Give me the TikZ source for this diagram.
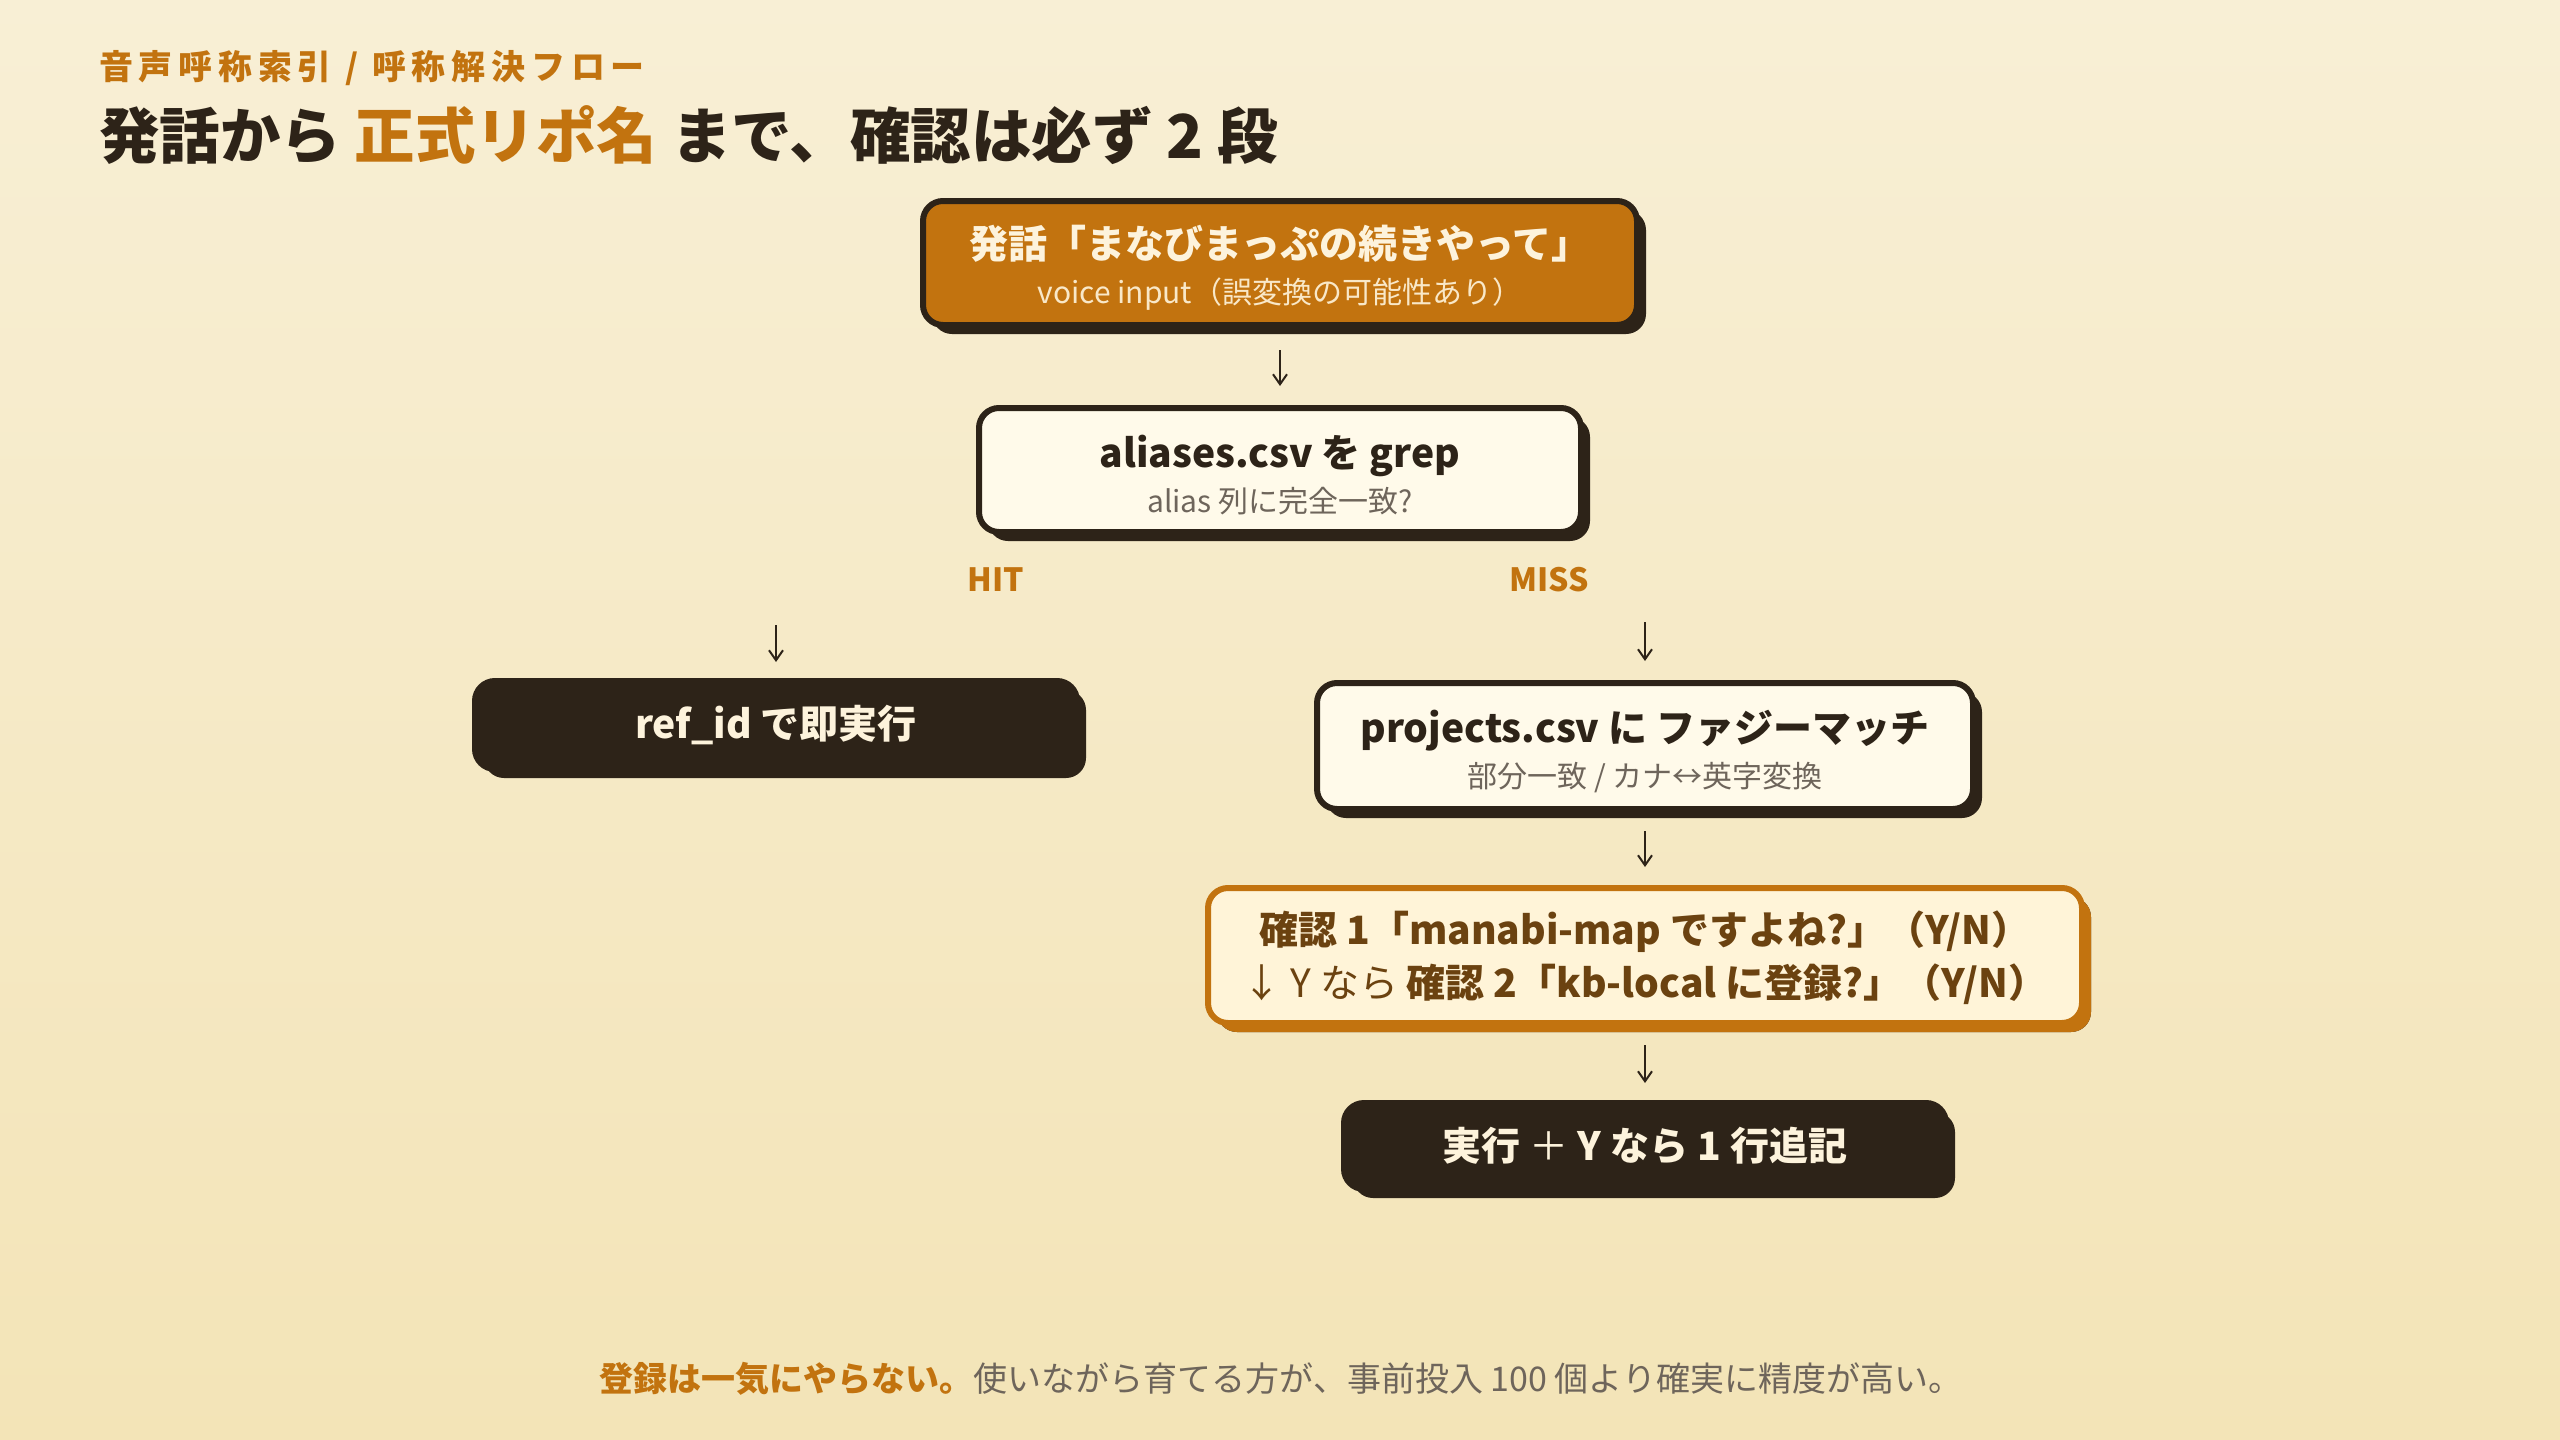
\documentclass[tikz,border=0pt]{standalone}
\usepackage{fontspec}
\setmainfont{Noto Sans CJK JP}
\newfontfamily\kickerfont[LetterSpace=17]{Noto Sans CJK JP}
\usetikzlibrary{positioning, arrows.meta, shadows}

\definecolor{bgtop}{HTML}{F8EFD5}
\definecolor{bgbot}{HTML}{F3E4B7}
\definecolor{ink}{HTML}{2D2318}
\definecolor{amber}{HTML}{C2730F}
\definecolor{paper}{HTML}{FFFAEA}
\definecolor{pale}{HTML}{FFF4D8}
\definecolor{cream}{HTML}{FDF3DC}
\definecolor{sand}{HTML}{F9E8C8}
\definecolor{slate}{HTML}{6E655B}
\definecolor{umber}{HTML}{6B4210}

\begin{document}
\begin{tikzpicture}[x=1pt, y=-1pt, >={Straight Barb[length=10pt,width=14pt]},
    line width=2pt, node distance=74pt, align=center]

    \tikzset{
      card/.style = {rounded corners=20pt, line width=6pt, draw=ink,
        minimum width=602pt, minimum height=88pt, inner sep=0pt,
        font=\bfseries\fontsize{39}{45}\selectfont,
        drop shadow={shadow xshift=9pt, shadow yshift=-9pt, opacity=1, fill=ink}},
      twoline/.style  = {text height=88pt},
      startbox/.style = {card, twoline, fill=amber, text=cream},
      checkbox/.style = {card, twoline, fill=paper, text=ink},
      askbox/.style   = {card, draw=amber, fill=pale, text=umber, text height=91pt,
        font=\bfseries\fontsize{39}{53}\selectfont,
        drop shadow={shadow xshift=9pt, shadow yshift=-9pt, opacity=1, fill=amber}},
      endbox/.style   = {card, fill=ink, text=cream},
      branch/.style   = {text=amber, font=\bfseries\fontsize{32}{38}\selectfont},
    }

    % background
    \shade[top color=bgtop, bottom color=bgbot] (0,0) rectangle (2560,1440);
    \useasboundingbox (0,0) rectangle (2560,1440);

    \node[anchor=west, inner sep=0pt, text=amber,
      font=\kickerfont\bfseries\fontsize{34}{40}\selectfont] (kicker) at (98,68)
      {音声呼称索引 / 呼称解決フロー};
    \node[anchor=west, inner sep=0pt, text=ink,
      font=\bfseries\fontsize{60.5}{72}\selectfont] (headline) at (98,135)
      {発話から \textcolor{amber}{正式リポ名} まで、確認は必ず 2 段};

    \node[startbox, minimum width=714pt, minimum height=124pt] (utter) at (1280,263)
      {発話「まなびまっぷの続きやって」\\
       {\mdseries\fontsize{30}{45}\selectfont\color{sand}voice input（誤変換の可能性あり）}};
    \node[checkbox, minimum height=124pt, below=77pt of utter] (grep)
      {aliases.csv を grep\\
       {\mdseries\fontsize{30}{45}\selectfont\color{slate}alias 列に完全一致?}};

    \node[branch] (hit)  at (996,580)  {HIT};
    \node[branch] (miss) at (1549,580) {MISS};

    \node[endbox, anchor=north] (fastrun) at (776,678) {ref\_id で即実行};
    \node[checkbox, anchor=north, minimum width=656pt, minimum height=126pt] (fuzzy) at (1645,680)
      {projects.csv に ファジーマッチ\\
       {\mdseries\fontsize{30}{45}\selectfont\color{slate}部分一致 / カナ↔英字変換}};
    \node[askbox, minimum width=874pt, minimum height=135pt, below=73pt of fuzzy] (confirm)
      {確認 1「manabi-map ですよね?」（Y/N）\\
       {\mdseries ↓ Y なら} 確認 2「kb-local に登録?」（Y/N）};
    \node[endbox, minimum height=86pt, below=74pt of confirm] (append)
      {実行 {\mdseries ＋} Y なら 1 行追記};

    \coordinate (hittop)  at (776,625);
    \coordinate (misstop) at (1645,622);

    \node[inner sep=0pt, font=\fontsize{34}{40}\selectfont, text=slate] (moral) at (1281,1379)
      {\textcolor{amber}{\bfseries 登録は一気にやらない。}使いながら育てる方が、事前投入 100 個より確実に精度が高い。};

    \path[->, draw=ink]
      (utter)   edge[shorten <=22pt, shorten >=19pt] (grep)
      (fuzzy)   edge[shorten <=19pt, shorten >=18pt] (confirm)
      (confirm) edge[shorten <=19pt, shorten >=17pt] (append);
    \draw[->, draw=ink, shorten >=16pt] (hittop) -- (fastrun.north);
    \draw[->, draw=ink, shorten >=19pt] (misstop) -- (fuzzy.north);

  \end{tikzpicture}
\end{document}
